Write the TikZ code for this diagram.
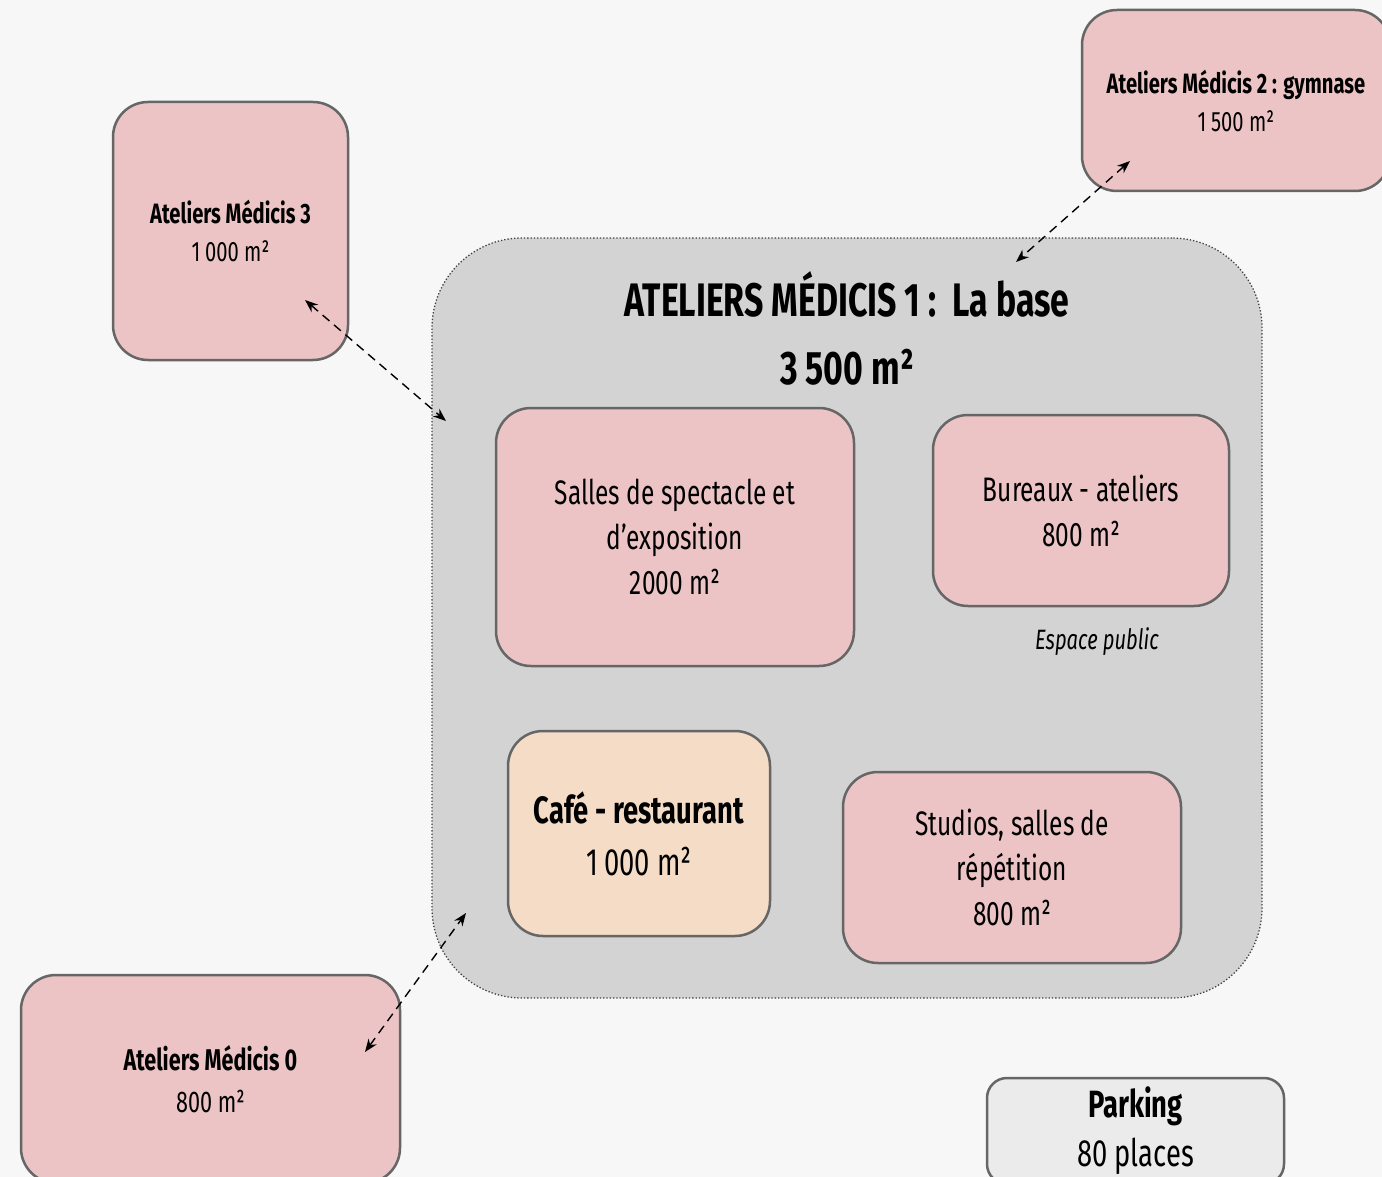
\documentclass[tikz,border=0pt]{standalone}
\usepackage{fontspec}
\setmainfont{Fira Sans}[FakeStretch=0.72]
\usetikzlibrary{arrows.meta}
\definecolor{fond}{HTML}{F7F7F7}
\definecolor{rose}{HTML}{ECC4C5}
\definecolor{gris}{HTML}{D3D3D3}
\definecolor{peche}{HTML}{F4DCC6}
\definecolor{clair}{HTML}{EBEBEB}
\definecolor{bord}{HTML}{666666}
\tikzset{
  salle/.style={draw=bord, line width=2.5pt, fill=rose, rounded corners=35pt,
    inner sep=0pt, align=center},
  lien/.style={dash pattern=on 9pt off 6pt, line width=1.4pt,
    {Stealth[length=13pt,width=10pt]}-{Stealth[length=13pt,width=10pt]}},
}
\begin{document}
\begin{tikzpicture}[x=1pt,y=-1pt]
  % cadre
  \useasboundingbox (0,0) rectangle (1382,1177);
  \clip (0,0) rectangle (1382,1177);
  \fill[fond] (0,0) rectangle (1382,1177);
  % la base
  \node[draw=black!75, dotted, line width=1.3pt, fill=gris, rounded corners=90pt,
    minimum width=830pt, minimum height=760pt] (base) at (847,618) {};
  \node[align=center, font=\fontsize{47}{68}\selectfont\bfseries] (titre) at (847,328)
    {ATELIERS MÉDICIS 1 :\ \ La base\\3\,500 m²};
  % ateliers autour
  \node[salle, minimum width=235pt, minimum height=258pt, font=\fontsize{28}{38}\selectfont]
    (am3) at (230.5,231) {\textbf{Ateliers Médicis 3}\\1\,000 m²};
  \node[salle, minimum width=308pt, minimum height=181pt, font=\fontsize{28}{38}\selectfont]
    (am2) at (1236,100.5) {\textbf{Ateliers Médicis 2 : gymnase}\\1\,500 m²};
  \node[salle, minimum width=379pt, minimum height=208pt, font=\fontsize{30}{42}\selectfont]
    (am0) at (210.5,1079) {\textbf{Ateliers Médicis 0}\\800 m²};
  % espaces de la base
  \node[salle, minimum width=358pt, minimum height=258pt, font=\fontsize{34}{45}\selectfont]
    (salles) at (675,537) {Salles de spectacle et\\d’exposition\\2000 m²};
  \node[salle, minimum width=296pt, minimum height=191pt, font=\fontsize{34}{45}\selectfont]
    (bureaux) at (1081,510.5) {Bureaux - ateliers\\800 m²};
  \node[font=\fontsize{28}{34}\selectfont\itshape] (public) at (1097,642) {Espace public};
  \node[salle, fill=peche, minimum width=262pt, minimum height=205pt,
    font=\fontsize{38}{52}\selectfont] (cafe) at (639,833.5) {\textbf{Café - restaurant}\\1\,000 m²};
  \node[salle, minimum width=338pt, minimum height=191pt, font=\fontsize{34}{45}\selectfont]
    (studios) at (1012,867.5) {Studios, salles de\\répétition\\800 m²};
  % parking
  \node[salle, fill=clair, rounded corners=20pt, minimum width=297pt, minimum height=106pt,
    font=\fontsize{38}{49}\selectfont] (parking) at (1135.5,1131) {\textbf{Parking}\\80 places};
  % liens
  \coordinate (a2) at (1130,161);
  \coordinate (b2) at (1016,262);
  \coordinate (a3) at (305,300);
  \coordinate (b3) at (446,421);
  \coordinate (a0) at (365,1052);
  \coordinate (b0) at (466,913);
  \draw[lien] (a2) -- (b2);
  \draw[lien] (a3) -- (b3);
  \draw[lien] (a0) -- (b0);
\end{tikzpicture}
\end{document}
